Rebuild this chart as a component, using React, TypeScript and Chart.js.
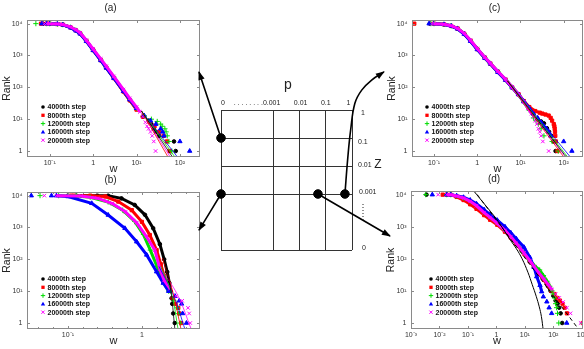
import React, { useEffect, useRef } from 'react';
import { Chart, registerables } from 'chart.js';

Chart.register(...registerables);

type Pt = [number, number];

const FONT = "'Liberation Sans', Arial, Helvetica, sans-serif";
Chart.defaults.font.family = FONT;

// ---------------- series identity ----------------
const stepLabels = ['4000th step', '8000th step', '12000th step', '16000th step', '20000th step'];

// ---------------- axis ticks ----------------
const rankTicks = [1, 10, 100, 1000, 10000];
const rankTickLabels = ['1', '10¹', '10²', '10³', '10⁴'];
const wTicksAC = [0.1, 1, 10, 100];
const wTickLabelsAC = ['10⁻¹', '1', '10¹', '10²'];
const wTicksB = [0.1, 1];
const wTickLabelsB = ['10⁻¹', '1'];
const wMinorTicksB = [0.04, 0.063, 0.16, 0.25, 0.4, 0.63, 1.6, 2.5, 4];
const wTicksD = [0.001, 0.01, 0.1, 1, 10, 100, 1000];
const wTickLabelsD = ['10⁻³', '10⁻²', '10⁻¹', '1', '10¹', '10²', '10³'];

// ---------------- panel (a): [w, rank] ----------------
const a4000: Pt[] = [[0.07,10000],[0.085,9995],[0.1,9950],[0.15,9750],[0.2,9300],[0.3,7700],[0.4,6200],[0.5,5000],[0.7,2900],[1,1500],[1.5,720],[2,420],[3,200],[5,75],[7,40],[10,21],[14,12],[19,9],[22,7],[25,5],[28,4],[33,3],[73,2],[80,1]];
const a8000: Pt[] = [[0.063,10000],[0.085,9995],[0.1,9950],[0.15,9700],[0.2,9250],[0.3,7650],[0.4,6150],[0.5,4950],[0.7,2850],[1,1480],[1.5,710],[2,415],[3,195],[5,74],[7,39],[10,20],[14,12],[20,8],[26,6],[33,4],[42,3],[50,2],[58,1]];
const a12000: Pt[] = [[0.048,10000],[0.085,9995],[0.1,9960],[0.15,9750],[0.2,9300],[0.3,7700],[0.4,6250],[0.5,5000],[0.7,2900],[1,1500],[1.5,740],[2,430],[3,210],[5,80],[7,42],[10,22],[15,13],[22,10],[30,8.5],[36,7],[39,6],[45,5],[48,4],[51,3],[56,2],[65,1]];
const a16000: Pt[] = [[0.066,10000],[0.085,9995],[0.1,9940],[0.15,9700],[0.2,9200],[0.3,7500],[0.4,6000],[0.5,4800],[0.7,2800],[1,1450],[1.5,700],[2,410],[3,195],[5,76],[7,41],[10,22],[15,13],[21,9],[28,7],[36,5],[40,4],[43,3],[100,2],[168,1]];
const a20000: Pt[] = [[0.075,10000],[0.085,9995],[0.1,9960],[0.15,9800],[0.2,9400],[0.3,7900],[0.4,6400],[0.5,5200],[0.7,3000],[1,1600],[1.5,780],[2,460],[3,220],[5,85],[7,45],[10,24],[12,17],[14,12],[16,8],[17.5,6],[19,5],[21,4],[23,3],[25,2],[27.5,1]];
const aFits: Pt[][] = [[[13,18],[70,0.6]],[[13,18],[55,0.6]],[[13,18],[80,0.6]],[[13,18],[92,0.6]],[[13,18],[62,0.6]]];

// ---------------- panel (b) ----------------
const b4000: Pt[] = [[0.1,10000],[0.13,9995],[0.25,9990],[0.35,9950],[0.53,8200],[0.8,5100],[1.1,2500],[1.42,950],[1.75,300],[2.0,100],[2.2,40],[2.35,18],[2.45,10],[2.52,6],[2.57,4],[2.65,2],[2.78,1]];
const b8000: Pt[] = [[0.11,10000],[0.12,9995],[0.2,9990],[0.32,9400],[0.48,6500],[0.73,3500],[1.0,1500],[1.28,580],[1.58,195],[1.8,70],[2.0,30],[2.3,12],[2.6,6],[2.85,4],[3.1,3],[3.2,2],[3.4,1]];
const b12000: Pt[] = [[0.042,10000],[0.075,9995],[0.13,9800],[0.2,8900],[0.35,6300],[0.55,3500],[0.8,1550],[1.05,600],[1.3,195],[1.6,60],[1.9,22],[2.3,10],[2.7,5],[3.0,3],[3.15,2],[3.3,1]];
const b16000: Pt[] = [[0.032,10000],[0.06,10000],[0.07,9995],[0.1,9400],[0.21,5750],[0.35,2470],[0.59,944],[0.85,357],[1.16,138],[1.58,41],[1.94,18],[2.3,10],[2.8,7],[3.2,5],[3.44,4],[3.55,2],[4.0,1]];
const b20000: Pt[] = [[0.048,10000],[0.07,9995],[0.15,9700],[0.25,8300],[0.4,5600],[0.6,3100],[0.85,1400],[1.15,520],[1.5,195],[1.75,50],[2.0,22],[2.4,12],[2.9,7],[3.5,5],[4.2,3],[4.35,2],[4.5,1]];
const bFits: Pt[][] = [[[1.9,150],[2.4,15],[2.8,0.6]],[[1.9,110],[2.6,10],[3.4,0.6]],[[1.8,60],[2.5,9],[3.1,0.6]],[[1.7,60],[2.7,7],[3.85,0.6]],[[1.8,50],[3.0,8],[4.7,0.6]]];

// ---------------- panel (c) ----------------
const c4000: Pt[] = [[0.08,10000],[0.1,9995],[0.17,9500],[0.25,8500],[0.35,7000],[0.5,4800],[0.7,2900],[1,1600],[1.5,850],[2,560],[3,310],[4.5,175],[6.4,100],[9,60],[12,36],[16,21],[20,14],[25,10],[30,8.5],[35,7.4],[41,5.2],[46,4],[52,3],[58,2],[65,1]];
const c8000: Pt[] = [[0.035,10000],[0.1,9995],[0.17,9480],[0.25,8450],[0.35,6950],[0.5,4750],[0.7,2880],[1,1580],[1.5,840],[2,555],[3,305],[4.5,172],[6.4,100],[9,61],[12,37],[16,24],[22,18],[28,16],[32,15],[38,14],[45,13],[50,11],[54,9],[59,7],[61,6],[62,5],[63,4],[64,3],[66,2],[72,1]];
const c12000: Pt[] = [[0.085,10000],[0.1,9995],[0.17,9520],[0.25,8550],[0.35,7050],[0.5,4850],[0.7,2920],[1,1620],[1.5,860],[2,565],[3,312],[4.5,176],[6.4,101],[9,59],[12,34],[16,19],[20,11],[23,9],[26,7],[30,5],[35,3],[54,2],[75,1]];
const c16000: Pt[] = [[0.077,10000],[0.1,9995],[0.17,9450],[0.25,8400],[0.35,6850],[0.5,4650],[0.7,2800],[1,1550],[1.5,830],[2,550],[3,300],[4.5,170],[6.4,98],[9,60],[12,36],[16,22],[20,15],[25,11],[30,8],[35,6],[40,5],[45,4],[50,3],[100,2],[155,1]];
const c20000: Pt[] = [[0.09,10000],[0.1,9995],[0.17,9550],[0.25,8600],[0.35,7150],[0.5,4950],[0.7,3000],[1,1660],[1.5,880],[2,575],[3,318],[4.5,180],[6.4,103],[9,60],[12,35],[15,22],[18,15],[20,12],[22,9],[24,7],[26,5],[28,4],[30,3],[33,2],[45,1]];
const cFits: Pt[][] = [[[5,160],[120,0.6]],[[5,160],[105,0.6]],[[5,160],[130,0.6]],[[5,160],[150,0.6]],[[5,160],[115,0.6]]];

// ---------------- panel (d) ----------------
const d4000: Pt[] = [[0.0035,10000],[0.018,9995],[0.025,9950],[0.04,9000],[0.07,7800],[0.12,6100],[0.2,4400],[0.37,2700],[0.6,1900],[1.07,1250],[2,750],[3.2,480],[5,300],[9.3,150],[15,85],[21,56],[30,36],[47,22],[65,14],[80,10],[100,7],[120,5],[140,4],[160,3],[180,2],[204,1]];
const d8000: Pt[] = [[0.013,10000],[0.018,9995],[0.025,9900],[0.04,8500],[0.07,6800],[0.12,5000],[0.2,3600],[0.37,2300],[0.6,1650],[1.07,1150],[2,700],[3.2,460],[5,290],[9.3,145],[15,84],[21,56],[30,36],[47,22],[65,15],[85,10],[110,8],[140,6],[170,5],[210,4],[250,3],[300,2],[1080,1]];
const d12000: Pt[] = [[0.0033,10000],[0.018,9995],[0.025,9950],[0.04,9100],[0.07,7900],[0.12,6300],[0.2,4600],[0.37,2800],[0.6,2000],[1.07,1300],[2,780],[3.2,500],[5,310],[9.3,155],[15,90],[21,62],[33,45],[45,30],[60,20],[75,14],[90,10],[100,8],[110,6],[120,4],[130,3],[140,2],[155,1]];
const d16000: Pt[] = [[0.0056,10000],[0.018,9995],[0.025,9960],[0.04,9300],[0.07,8300],[0.12,6800],[0.2,5200],[0.37,3400],[0.6,2400],[1.07,1600],[2,1000],[3.2,650],[5,420],[9.3,230],[15,110],[21,55],[26,28],[34,15],[39,9.5],[44.5,6.6],[59,4.6],[71,3],[87,2],[295,1]];
const d20000: Pt[] = [[0.009,10000],[0.018,9995],[0.025,9950],[0.04,9050],[0.07,7850],[0.12,6200],[0.2,4500],[0.37,2750],[0.6,1950],[1.07,1280],[2,770],[3.2,490],[5,305],[9.3,152],[15,88],[21,58],[30,38],[47,23],[65,16],[90,11],[120,8],[160,6],[220,4.5],[300,3],[400,2],[910,1]];
const dPowerLaw: Pt[] = [[0.15,15100],[800,0.61]];
const dExpCurve: Pt[] = [[0.16,13000],[0.4,4800],[1,1750],[1.67,890],[3,400],[5,208],[8,100],[12.8,38],[18,16],[25,6.8],[32,3.2],[38,1.6],[44,0.6]];

// ---------------- central (p, z) diagram ----------------
const pGrid = [0, 2, 3, 4, 5];
const pGridLabels = ['0', '. . . . . . . .0.001', '0.01', '0.1', '1'];
const zGrid = [5, 4, 3, 2, 0];
const zGridLabels = ['1', '0.1', '0.01', '0.001', '0'];
const chosenPoints: Pt[] = [[0, 4], [0, 2], [3.7, 2], [4.73, 2]];
const arrowToA: Pt[] = [[0, 4], [-0.84, 6.36]];
const arrowToB: Pt[] = [[0, 2], [-0.84, 0.71]];
const arrowToC: Pt[] = [[4.73, 2], [4.84, 3.3], [4.95, 4.3], [5.11, 5.24], [5.37, 5.71], [5.75, 6.07], [6.22, 6.36]];
const arrowToD: Pt[] = [[3.7, 2], [6.45, 0.5]];

// ---------------- styles ----------------
const stepColors = ['#000000', '#ff0000', '#00dd00', '#0000ff', '#ff00ff'];
const stepMarkers = ['circle', 'rect', 'cross', 'triangle', 'crossRot'];
const stepRadii = [1.8, 2.3, 2.6, 2.5, 2.5];
const pLabelDx = [2, 7, 1, 0, -3.5];
const pLabelAlign = ['center', 'right', 'center', 'center', 'center'];
const zLabelDx = [9, 6, 6, 7, 10];
const zLabelDy = [3.3, 3.7, -1, -2.3, -2];

interface PanelSpec {
  id: string; title: string;
  left: number; top: number; width: number; height: number;
  area: { l: number; t: number; r: number; b: number };
  xMin: number; xMax: number; xTicks: number[]; xLabels: string[]; xMinor: number[];
  series: Pt[][]; fits: Pt[][]; fitTension: number;
  extra: { pts: Pt[]; dash: number[]; tension: number }[];
  legendX: number; lineCut: number;
}

const panels: PanelSpec[] = [
  { id: 'a', title: '(a)', left: 0, top: 0, width: 205, height: 178, area: { l: 27, t: 20, r: 200, b: 157 },
    xMin: 0.03, xMax: 290, xTicks: wTicksAC, xLabels: wTickLabelsAC, xMinor: [],
    series: [a4000, a8000, a12000, a16000, a20000], fits: aFits, fitTension: 0, extra: [], legendX: 16, lineCut: 14 },
  { id: 'b', title: '(b)', left: 0, top: 172, width: 205, height: 177, area: { l: 27, t: 192, r: 200, b: 329 },
    xMin: 0.028, xMax: 6.1, xTicks: wTicksB, xLabels: wTickLabelsB, xMinor: wMinorTicksB,
    series: [b4000, b8000, b12000, b16000, b20000], fits: bFits, fitTension: 0.4, extra: [], legendX: 16, lineCut: 9 },
  { id: 'c', title: '(c)', left: 384, top: 0, width: 215, height: 178, area: { l: 412, t: 20, r: 583, b: 157 },
    xMin: 0.031, xMax: 280, xTicks: wTicksAC, xLabels: wTickLabelsAC, xMinor: [],
    series: [c4000, c8000, c12000, c16000, c20000], fits: cFits, fitTension: 0, extra: [], legendX: 15, lineCut: 14 },
  { id: 'd', title: '(d)', left: 384, top: 172, width: 215, height: 177, area: { l: 411, t: 191, r: 583, b: 329 },
    xMin: 0.001, xMax: 1100, xTicks: wTicksD, xLabels: wTickLabelsD, xMinor: [],
    series: [d4000, d8000, d12000, d16000, d20000], fits: [], fitTension: 0,
    extra: [{ pts: dPowerLaw, dash: [4, 3], tension: 0 }, { pts: dExpCurve, dash: [], tension: 0.4 }], legendX: 20, lineCut: 9 },
];

const toXY = (pts: Pt[]) => pts.map(([x, y]) => ({ x, y }));

function drawMarker(ctx: CanvasRenderingContext2D, style: string, x: number, y: number, r: number, color: string) {
  ctx.save();
  ctx.fillStyle = color; ctx.strokeStyle = color; ctx.lineWidth = 1;
  ctx.beginPath();
  if (style === 'circle') { ctx.arc(x, y, r, 0, Math.PI * 2); ctx.fill(); }
  else if (style === 'rect') { ctx.fillRect(x - r * 0.75, y - r * 0.75, r * 1.5, r * 1.5); }
  else if (style === 'triangle') { ctx.moveTo(x, y - r); ctx.lineTo(x + r, y + r * 0.75); ctx.lineTo(x - r, y + r * 0.75); ctx.closePath(); ctx.fill(); }
  else if (style === 'cross') { ctx.moveTo(x - r, y); ctx.lineTo(x + r, y); ctx.moveTo(x, y - r); ctx.lineTo(x, y + r); ctx.stroke(); }
  else { const d = r * 0.75; ctx.moveTo(x - d, y - d); ctx.lineTo(x + d, y + d); ctx.moveTo(x + d, y - d); ctx.lineTo(x - d, y + d); ctx.stroke(); }
  ctx.restore();
}

function labelFor(ticks: number[], labels: string[], v: number) {
  const i = ticks.findIndex((t) => Math.abs(Math.log10(t) - Math.log10(v)) < 1e-6);
  return i >= 0 ? labels[i] : '';
}

function panelDecor(spec: PanelSpec) {
  return {
    id: 'decor_' + spec.id,
    afterDraw(chart: any) {
      const { ctx, chartArea: ca, scales } = chart;
      const xs = scales.x, ys = scales.y;
      ctx.save();
      ctx.strokeStyle = '#8a8a8a'; ctx.lineWidth = 1;
      ctx.strokeRect(ca.left + 0.5, ca.top + 0.5, ca.right - ca.left - 1, ca.bottom - ca.top - 1);
      const seg = (x1: number, y1: number, x2: number, y2: number) => { ctx.beginPath(); ctx.moveTo(x1, y1); ctx.lineTo(x2, y2); ctx.stroke(); };
      spec.xTicks.forEach((v) => { const px = Math.round(xs.getPixelForValue(v)) + 0.5; seg(px, ca.bottom, px, ca.bottom - 3); seg(px, ca.top, px, ca.top + 3); });
      spec.xMinor.forEach((v) => { const px = Math.round(xs.getPixelForValue(v)) + 0.5; seg(px, ca.bottom, px, ca.bottom - 2); seg(px, ca.top, px, ca.top + 2); });
      rankTicks.forEach((v) => { const py = Math.round(ys.getPixelForValue(v)) + 0.5; seg(ca.left, py, ca.left + 3, py); seg(ca.right, py, ca.right - 3, py); });
      const cx = (ca.left + ca.right) / 2;
      ctx.fillStyle = '#222'; ctx.textAlign = 'center'; ctx.textBaseline = 'middle';
      ctx.font = `10px ${FONT}`;
      ctx.fillText(spec.title, cx - 3, ca.top - 11.5);
      ctx.font = `11px ${FONT}`;
      ctx.fillText('w', cx, ca.bottom + 12);
      ctx.save();
      ctx.translate(ca.left - 20, (ca.top + ca.bottom) / 2);
      ctx.rotate(-Math.PI / 2);
      ctx.font = `10.5px ${FONT}`;
      ctx.fillText('Rank', 0, 0);
      ctx.restore();
      ctx.font = `bold 7px ${FONT}`; ctx.textAlign = 'left';
      stepLabels.forEach((lab, i) => {
        const y = ca.bottom - 50 + i * 8.3;
        const mx = ca.left + spec.legendX;
        drawMarker(ctx, stepMarkers[i], mx, y, i === 0 ? 1.8 : 2.2, stepColors[i]);
        ctx.fillStyle = '#111';
        ctx.fillText(lab, mx + 4.5, y + 0.5);
      });
      ctx.restore();
    },
  };
}

const HIDDEN = 'rgba(0,0,0,0)';

function buildPanel(canvas: HTMLCanvasElement, spec: PanelSpec) {
  const yW = spec.area.l - spec.left;
  const xH = spec.top + spec.height - spec.area.b;
  const datasets: any[] = [];
  spec.series.forEach((pts, i) => {
    datasets.push({
      data: toXY(pts), showLine: true,
      borderColor: stepColors[i], backgroundColor: stepColors[i],
      borderWidth: 3, pointStyle: stepMarkers[i], pointRadius: stepRadii[i], pointBorderWidth: 1,
      segment: {
        borderColor: (c: any) => {
          if (c.p1.parsed.y < spec.lineCut) return HIDDEN; // sparse tail: markers only
          if (c.p0.parsed.y >= 10000) return HIDDEN; // isolated poorest agents
          return undefined;
        },
      },
      order: 5 - i,
    });
  });
  spec.fits.forEach((pts, i) => {
    datasets.push({ data: toXY(pts), showLine: true, pointRadius: 0, borderColor: stepColors[i], borderWidth: 0.8, tension: spec.fitTension, order: 0 });
  });
  spec.extra.forEach((ln) => {
    datasets.push({ data: toXY(ln.pts), showLine: true, pointRadius: 0, borderColor: '#000', borderWidth: 1, borderDash: ln.dash, tension: ln.tension, order: 0 });
  });
  const tickFont = { size: 7, family: FONT };
  return new Chart(canvas, {
    type: 'scatter',
    data: { datasets },
    options: {
      animation: false, responsive: false, devicePixelRatio: 1, events: [],
      layout: { padding: { left: 0, top: spec.area.t - spec.top, right: spec.left + spec.width - spec.area.r, bottom: 0 } },
      plugins: { legend: { display: false }, tooltip: { enabled: false } },
      scales: {
        x: {
          type: 'logarithmic', min: spec.xMin, max: spec.xMax,
          afterBuildTicks: (s: any) => { s.ticks = spec.xTicks.map((v) => ({ value: v })); },
          afterFit: (s: any) => { s.height = xH; },
          ticks: { autoSkip: false, maxRotation: 0, padding: 1.5, font: tickFont, color: '#333',
            callback: (v: any) => labelFor(spec.xTicks, spec.xLabels, Number(v)) },
          grid: { display: false, drawTicks: false }, border: { display: false },
        },
        y: {
          type: 'logarithmic', min: 0.65, max: 13000,
          afterBuildTicks: (s: any) => { s.ticks = rankTicks.map((v) => ({ value: v })); },
          afterFit: (s: any) => { s.width = yW; },
          ticks: { autoSkip: false, padding: 4.5, font: tickFont, color: '#333',
            callback: (v: any) => labelFor(rankTicks, rankTickLabels, Number(v)) },
          grid: { display: false, drawTicks: false }, border: { display: false },
        },
      },
    } as any,
    plugins: [panelDecor(spec) as any],
  });
}

const arrowSets = [arrowToA, arrowToB, arrowToC, arrowToD];

const diagramDecor = {
  id: 'diagramDecor',
  afterDatasetsDraw(chart: any) {
    const { ctx, chartArea: ca, scales } = chart;
    const xs = scales.x, ys = scales.y;
    ctx.save();
    arrowSets.forEach((a) => {
      const n = a.length;
      const tx = xs.getPixelForValue(a[n - 1][0]), ty = ys.getPixelForValue(a[n - 1][1]);
      const px = xs.getPixelForValue(a[n - 2][0]), py = ys.getPixelForValue(a[n - 2][1]);
      const dx = tx - px, dy = ty - py;
      const L = Math.hypot(dx, dy); const ux = dx / L, uy = dy / L;
      const len = 8, hw = 3.2;
      ctx.fillStyle = '#000';
      ctx.beginPath();
      ctx.moveTo(tx + ux, ty + uy);
      ctx.lineTo(tx - ux * len - uy * hw, ty - uy * len + ux * hw);
      ctx.lineTo(tx - ux * len + uy * hw, ty - uy * len - ux * hw);
      ctx.closePath(); ctx.fill();
    });
    ctx.fillStyle = '#222'; ctx.textBaseline = 'middle';
    ctx.font = `7px ${FONT}`;
    pGridLabels.forEach((lab, i) => {
      ctx.textAlign = pLabelAlign[i] as CanvasTextAlign;
      ctx.fillText(lab, xs.getPixelForValue(pGrid[i]) + pLabelDx[i], ca.top - 7);
    });
    ctx.textAlign = 'left';
    zGridLabels.forEach((lab, i) => {
      ctx.fillText(lab, ca.right + zLabelDx[i], ys.getPixelForValue(zGrid[i]) + zLabelDy[i]);
    });
    const y0 = ys.getPixelForValue(2) + 10;
    for (let k = 0; k < 6; k++) { ctx.fillRect(ca.right + 10.5, y0 + k * 3, 1, 1); }
    ctx.textAlign = 'center';
    ctx.font = `14px ${FONT}`;
    ctx.fillText('p', ca.left + 67, ca.top - 25);
    ctx.font = `12px ${FONT}`;
    ctx.fillText('Z', ca.right + 26, ys.getPixelForValue(3) - 1.5);
    ctx.restore();
  },
};

function buildDiagram(canvas: HTMLCanvasElement) {
  const datasets: any[] = [
    { data: toXY(chosenPoints), pointRadius: 4.3, backgroundColor: '#000', borderColor: '#000', clip: false, order: 0 },
    ...arrowSets.map((a) => ({ data: toXY(a), showLine: true, pointRadius: 0, borderColor: '#000', borderWidth: 1.6, tension: 0.4, capBezierPoints: false, clip: false, order: 1 })),
  ];
  const fixRange = (s: any) => { s.min = 0; s.max = 5; };
  return new Chart(canvas, {
    type: 'scatter',
    data: { datasets },
    options: {
      animation: false, responsive: false, devicePixelRatio: 1, events: [],
      layout: { padding: { left: 221, top: 110, right: 232, bottom: 99 } },
      plugins: { legend: { display: false }, tooltip: { enabled: false } },
      scales: {
        x: { type: 'linear', bounds: 'data', afterDataLimits: fixRange,
          afterBuildTicks: (s: any) => { fixRange(s); s.ticks = pGrid.map((v) => ({ value: v })); },
          ticks: { display: false }, grid: { color: '#333', lineWidth: 1, drawTicks: false }, border: { display: false } },
        y: { type: 'linear', bounds: 'data', afterDataLimits: fixRange,
          afterBuildTicks: (s: any) => { fixRange(s); s.ticks = zGrid.map((v) => ({ value: v })); },
          ticks: { display: false }, grid: { color: '#333', lineWidth: 1, drawTicks: false }, border: { display: false } },
      },
    } as any,
    plugins: [diagramDecor as any],
  });
}

function PanelCanvas({ spec }: { spec: PanelSpec }) {
  const ref = useRef<HTMLCanvasElement>(null);
  useEffect(() => {
    const chart = buildPanel(ref.current!, spec);
    return () => chart.destroy();
  }, [spec]);
  return (
    <canvas ref={ref} width={spec.width} height={spec.height}
      style={{ position: 'absolute', left: spec.left, top: spec.top, width: spec.width, height: spec.height, display: 'block' }} />
  );
}

function DiagramCanvas() {
  const ref = useRef<HTMLCanvasElement>(null);
  useEffect(() => {
    const chart = buildDiagram(ref.current!);
    return () => chart.destroy();
  }, []);
  return (
    <canvas ref={ref} width={584} height={349}
      style={{ position: 'absolute', left: 0, top: 0, width: 584, height: 349, display: 'block' }} />
  );
}

export default function App() {
  return (
    <div style={{ position: 'fixed', left: 0, top: 0, width: 584, height: 349, overflow: 'hidden', background: '#fff' }}>
      {panels.map((p) => <PanelCanvas key={p.id} spec={p} />)}
      <DiagramCanvas />
    </div>
  );
}
